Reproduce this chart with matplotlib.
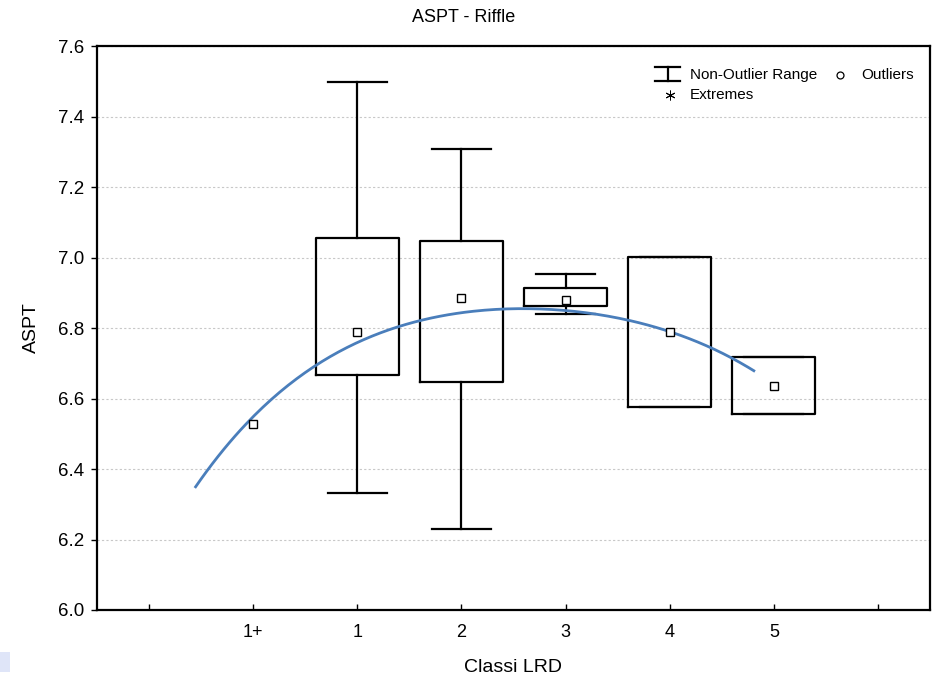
import matplotlib
matplotlib.use("Agg")
import matplotlib.pyplot as plt
from matplotlib.patches import Rectangle
import numpy as np

plt.rcParams['font.family'] = ['Liberation Sans', 'DejaVu Sans']

# ---- data ----
categories = ["1+", "1", "2", "3", "4", "5"]
medians = [6.527, 6.789, 6.885, 6.879, 6.788, 6.635]
q1 = [None, 6.667, 6.646, 6.862, 6.577, 6.556]
q3 = [None, 7.055, 7.047, 6.913, 7.001, 6.719]
whisk_lo = [None, 6.333, 6.231, 6.841, 6.577, 6.556]
whisk_hi = [None, 7.499, 7.308, 6.954, 7.001, 6.719]

# fitted curve (x in category-position units)
curve_x = [0.447, 0.677, 0.997, 1.316, 1.603, 2.082, 2.353, 2.673, 2.992,
           3.375, 3.759, 3.950, 4.238, 4.621, 5.004, 5.387, 5.808]
curve_y = [6.347, 6.445, 6.544, 6.634, 6.700, 6.768, 6.794, 6.825, 6.843,
           6.854, 6.856, 6.853, 6.843, 6.820, 6.788, 6.742, 6.681]

positions = np.arange(1, len(categories) + 1)

fig = plt.figure(figsize=(9.33, 6.83), dpi=100)
ax = fig.add_axes([97/933, 1 - 610/683, (930 - 97)/933, (610 - 46)/683])

stats = []
pos_box = []
for i, c in enumerate(categories):
    if q1[i] is None:
        continue
    stats.append(dict(med=medians[i], q1=q1[i], q3=q3[i],
                      whislo=whisk_lo[i], whishi=whisk_hi[i], fliers=[]))
    pos_box.append(positions[i])

lp = dict(color='black', linewidth=1.6)
ax.bxp(stats, positions=pos_box, widths=0.8, capwidths=0.57,
       showfliers=False, boxprops=lp, whiskerprops=lp, capprops=lp,
       medianprops=dict(linewidth=0), manage_ticks=False, zorder=3)

ax.plot(positions, medians, linestyle='none', marker='s', markersize=6,
        markerfacecolor='white', markeredgecolor='black', markeredgewidth=1.0, zorder=5)

# smooth curve through read points
cx = np.array(curve_x)
cy = np.array(curve_y)
coef = np.polyfit(cx, cy, 4)
xs = np.linspace(cx[0], cx[-1], 200)
ax.plot(xs, np.polyval(coef, xs), color='#4a7ebb', linewidth=2.0, zorder=4)

ax.set_xlim(-0.5, 7.5)
ax.set_ylim(6.0, 7.6)
ax.set_yticks(np.arange(6.0, 7.61, 0.2))
ax.set_yticklabels([f"{v:.1f}" for v in np.arange(6.0, 7.61, 0.2)], fontsize=13.5)
ax.set_xticks(np.arange(0, 8))
ax.set_xticklabels([""] + categories + [""], fontsize=13)
ax.tick_params(axis='x', direction='in', length=4, width=1, pad=10)
ax.tick_params(axis='y', direction='out', length=4, width=1, pad=5)
ax.yaxis.grid(True, linestyle=(0, (2, 2)), color='#c8c8c8', linewidth=0.8)
ax.set_axisbelow(True)
for s in ax.spines.values():
    s.set_linewidth(1.6)

ax.set_xlabel("Classi LRD", fontsize=14, va='top')
ax.xaxis.set_label_coords(0.5, -0.087)
ax.set_ylabel("ASPT", fontsize=14)
ax.yaxis.set_label_coords(-0.069, 0.5)
fig.text(0.497, 1 - 18/683, "ASPT - Riffle", ha='center', va='center', fontsize=13)

# legend (manual)
def px(x, y):
    return ((x - 97) / 833, (610 - y) / 564)

t = ax.transAxes
x0, x1 = px(655, 0)[0], px(680, 0)[0]
xm = px(667.5, 0)[0]
ya, yb = px(0, 67)[1], px(0, 81)[1]
ax.plot([x0, x1], [ya, ya], color='black', lw=1.6, transform=t, clip_on=False)
ax.plot([x0, x1], [yb, yb], color='black', lw=1.6, transform=t, clip_on=False)
ax.plot([xm, xm], [ya, yb], color='black', lw=1.6, transform=t, clip_on=False)
ax.text(*px(690, 75), "Non-Outlier Range", transform=t, fontsize=11, va='center', ha='left')
ax.plot(*px(840, 75), marker='o', markersize=5, markerfacecolor='white',
        markeredgecolor='black', markeredgewidth=0.9, transform=t)
ax.text(*px(861, 75), "Outliers", transform=t, fontsize=11, va='center', ha='left')
ax.plot(*px(670, 95), marker=(6, 2, 0), markersize=7, color='black',
        markeredgewidth=0.7, transform=t)
ax.text(*px(690, 95), "Extremes", transform=t, fontsize=11, va='center', ha='left')

# small light selection mark at bottom-left edge
fig.patches.append(Rectangle((0, 1 - 672/683), 10/933, 20/683, transform=fig.transFigure,
                             facecolor='#dfe5f8', edgecolor='none'))

fig.savefig("out.png", dpi=100)
